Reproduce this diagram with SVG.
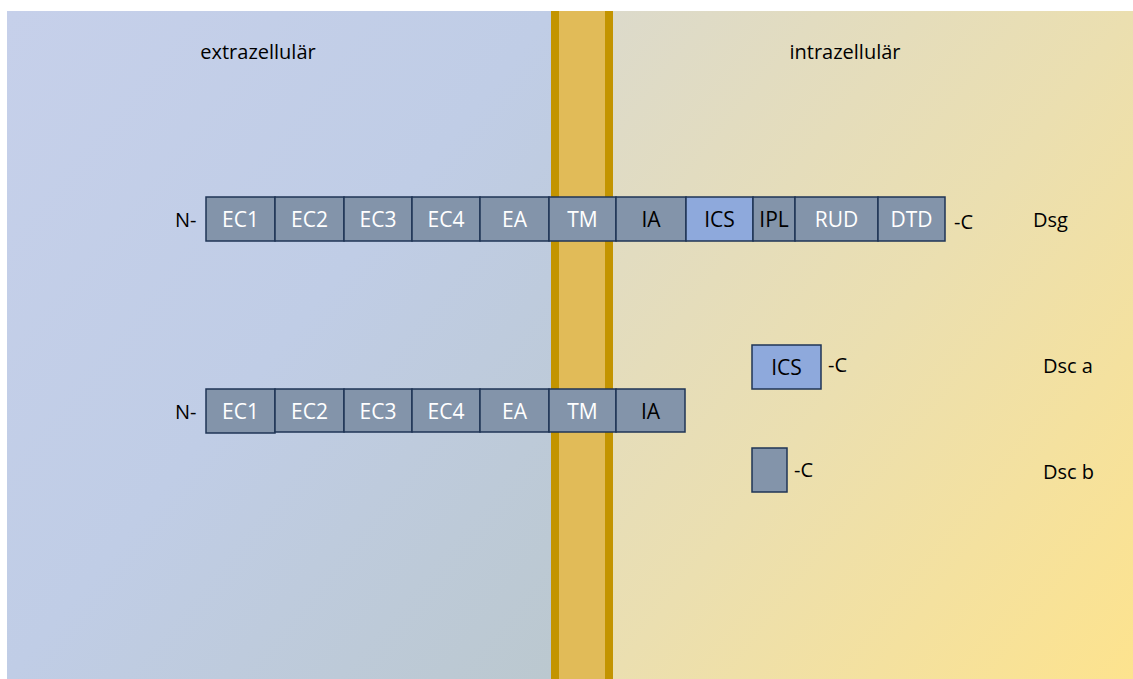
<svg xmlns="http://www.w3.org/2000/svg" width="1133" height="679" viewBox="0 0 1133 679">
<style>
.b{stroke:#1f3556;stroke-width:1.5}
.g{fill:#8394aa}
.c{fill:#8ea9dc}
text{font-family:"Open Sans","Liberation Sans",sans-serif;font-size:20px}
.w{fill:#ffffff;text-anchor:middle;font-size:21px}
.k{fill:#000000;text-anchor:middle}
.kb{fill:#000000;text-anchor:middle;font-size:21px}
.l{fill:#000000}
</style>
<defs>
<linearGradient id="gl" x1="0" y1="0" x2="1" y2="1">
<stop offset="0" stop-color="#c6d0ea"/>
<stop offset="0.5" stop-color="#c0cde6"/>
<stop offset="1" stop-color="#bbc8cf"/>
</linearGradient>
<linearGradient id="gr" x1="0" y1="0" x2="1" y2="1">
<stop offset="0" stop-color="#dcdacb"/>
<stop offset="0.5" stop-color="#ebdfb0"/>
<stop offset="1" stop-color="#fde38e"/>
</linearGradient>
</defs>
<rect x="0" y="0" width="1133" height="679" fill="#ffffff"/>
<g id="background">
<rect x="7" y="11" width="545" height="668" fill="url(#gl)"/>
<rect x="612" y="11" width="521" height="668" fill="url(#gr)"/>
<rect x="551" y="11" width="62" height="668" fill="#c39400"/>
<rect x="559" y="11" width="46" height="668" fill="#e1bb58"/>
<text x="258" y="59" class="k">extrazellulär</text>
<text x="845" y="59" class="k">intrazellulär</text>
</g>
<g id="dsg">
<text x="175" y="227" class="l">N-</text>
<g id="dsg-ec1"><rect x="206" y="197" width="69" height="44" class="b g"/><text x="240.5" y="227" class="w">EC1</text></g>
<g id="dsg-ec2"><rect x="275" y="197" width="69" height="44" class="b g"/><text x="309.5" y="227" class="w">EC2</text></g>
<g id="dsg-ec3"><rect x="344" y="197" width="68" height="44" class="b g"/><text x="378" y="227" class="w">EC3</text></g>
<g id="dsg-ec4"><rect x="412" y="197" width="68" height="44" class="b g"/><text x="446" y="227" class="w">EC4</text></g>
<g id="dsg-ea"><rect x="480" y="197" width="69" height="44" class="b g"/><text x="514.5" y="227" class="w">EA</text></g>
<g id="dsg-tm"><rect x="549" y="197" width="67" height="44" class="b g"/><text x="582.5" y="227" class="w">TM</text></g>
<g id="dsg-ia"><rect x="616" y="197" width="70" height="44" class="b g"/><text x="651" y="227" class="kb">IA</text></g>
<g id="dsg-ics"><rect x="686" y="197" width="67" height="44" class="b c"/><text x="719.5" y="227" class="kb">ICS</text></g>
<g id="dsg-ipl"><rect x="753" y="197" width="42" height="44" class="b g"/><text x="774" y="227" class="kb">IPL</text></g>
<g id="dsg-rud"><rect x="795" y="197" width="83" height="44" class="b g"/><text x="836.5" y="227" class="w">RUD</text></g>
<g id="dsg-dtd"><rect x="878" y="197" width="67" height="44" class="b g"/><text x="911.5" y="227" class="w">DTD</text></g>
<text x="954" y="229" class="l">-C</text>
<text x="1033" y="227" class="l">Dsg</text>
</g>
<g id="dsc-a">
<g id="dsca-ics"><rect x="752" y="345" width="69" height="44" class="b c"/><text x="786.5" y="375" class="kb">ICS</text></g>
<text x="828" y="372" class="l">-C</text>
<text x="1043" y="373" class="l">Dsc a</text>
</g>
<g id="dsc-n">
<text x="175" y="419" class="l">N-</text>
<g id="dsc-ec1"><rect x="206" y="389" width="69" height="44" class="b g"/><text x="240.5" y="419" class="w">EC1</text></g>
<g id="dsc-ec2"><rect x="275" y="389" width="69" height="43" class="b g"/><text x="309.5" y="419" class="w">EC2</text></g>
<g id="dsc-ec3"><rect x="344" y="389" width="68" height="43" class="b g"/><text x="378" y="419" class="w">EC3</text></g>
<g id="dsc-ec4"><rect x="412" y="389" width="68" height="43" class="b g"/><text x="446" y="419" class="w">EC4</text></g>
<g id="dsc-ea"><rect x="480" y="389" width="69" height="43" class="b g"/><text x="514.5" y="419" class="w">EA</text></g>
<g id="dsc-tm"><rect x="549" y="389" width="67" height="43" class="b g"/><text x="582.5" y="419" class="w">TM</text></g>
<g id="dsc-ia"><rect x="616" y="389" width="69" height="43" class="b g"/><text x="650.5" y="419" class="kb">IA</text></g>
</g>
<g id="dsc-b">
<g id="dscb-box"><rect x="752" y="448" width="35" height="44" class="b g"/></g>
<text x="794" y="477" class="l">-C</text>
<text x="1043" y="479" class="l">Dsc b</text>
</g>
<g id="connectors"/>
</svg>
